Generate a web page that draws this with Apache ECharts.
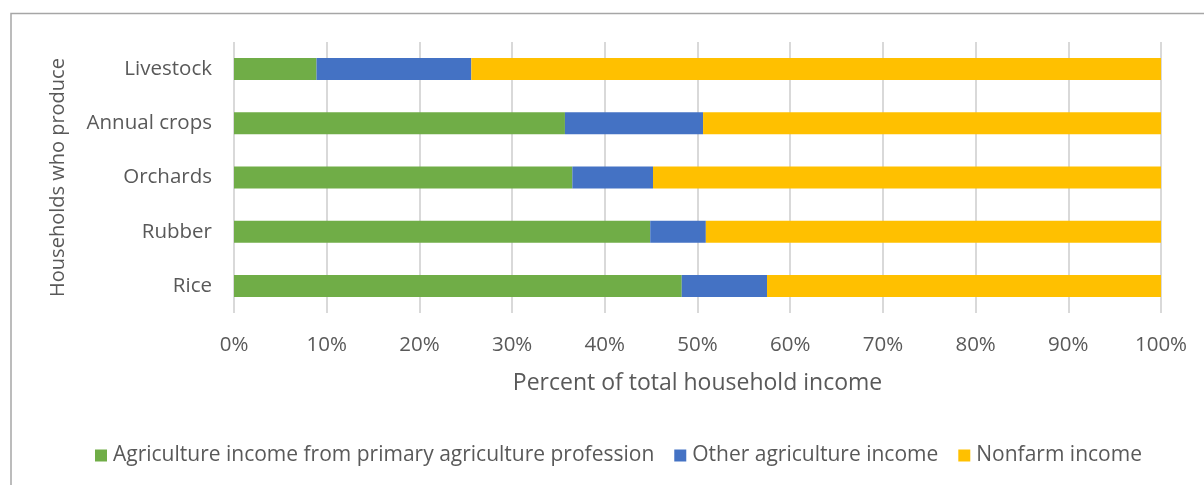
<!DOCTYPE html>
<html>
<head>
<meta charset="utf-8">
<script src="https://cdn.jsdelivr.net/npm/echarts@6/dist/echarts.min.js"></script>
<style>
  html, body { margin: 0; padding: 0; background: #fff; }
  #chart { width: 1204px; height: 485px; }
</style>
</head>
<body>
<div id="chart"></div>
<script>
const categories = ['Livestock', 'Annual crops', 'Orchards', 'Rubber', 'Rice'];
const primaryAg = [8.9, 35.7, 36.5, 44.9, 48.3];
const otherAg = [16.7, 14.9, 8.7, 6.0, 9.2];
const nonfarm = [74.4, 49.4, 54.8, 49.1, 42.5];
const xTicks = [0, 10, 20, 30, 40, 50, 60, 70, 80, 90, 100];
const seriesNames = ['Agriculture income from primary agriculture profession', 'Other agriculture income', 'Nonfarm income'];

const FONT = 'Open Sans';
const TXT = '#595959';

const chart = echarts.init(document.getElementById('chart'), null, { renderer: 'canvas' });
chart.setOption({
  animation: false,
  textStyle: { fontFamily: FONT },
  graphic: [{
    type: 'rect',
    shape: { x: 11, y: 13.5, width: 1260, height: 520 },
    style: { fill: 'none', stroke: '#a6a6a6', lineWidth: 1.5 },
    silent: true
  }],
  grid: { left: 234, right: 43, top: 42, bottom: 172, containLabel: false },
  legend: {
    left: 95, top: 445, padding: 0,
    itemWidth: 12, itemHeight: 12, itemGap: 20,
    icon: 'rect',
    textStyle: { fontFamily: FONT, fontSize: 21, color: TXT, padding: [0, 0, 0, 1] },
    data: seriesNames
  },
  xAxis: {
    type: 'value', min: 0, max: 100, interval: 10,
    axisLine: { show: false }, axisTick: { show: false },
    splitLine: { show: true, lineStyle: { color: '#d9d9d9', width: 2 } },
    axisLabel: { margin: 22, fontSize: 20.5, color: TXT, fontFamily: FONT,
      formatter: v => (xTicks.indexOf(v) >= 0 ? v + '%' : '') },
    name: 'Percent of total household income',
    nameLocation: 'middle', nameGap: 59,
    nameTextStyle: { fontSize: 23, color: TXT, fontFamily: FONT }
  },
  yAxis: {
    type: 'category', data: categories, inverse: true,
    axisLine: { show: false }, axisTick: { show: false },
    axisLabel: { margin: 22, fontSize: 20.5, color: TXT, fontFamily: FONT },
    name: 'Households who produce',
    nameLocation: 'middle', nameGap: 166,
    nameTextStyle: { fontSize: 20, color: TXT, fontFamily: FONT }
  },
  series: [
    { name: seriesNames[0], type: 'bar', stack: 's', data: primaryAg, barWidth: 22, itemStyle: { color: '#70AD47' } },
    { name: seriesNames[1], type: 'bar', stack: 's', data: otherAg, barWidth: 22, itemStyle: { color: '#4472C4' } },
    { name: seriesNames[2], type: 'bar', stack: 's', data: nonfarm, barWidth: 22, itemStyle: { color: '#FFC000' } }
  ]
});
</script>
</body>
</html>
